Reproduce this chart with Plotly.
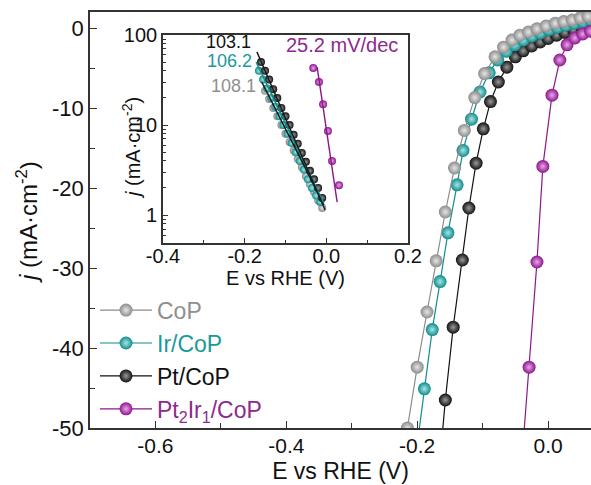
import plotly.graph_objects as go

# ---------------- main LSV data (E vs RHE in V, j in mA cm^-2) ----------------
cop_E = [-0.215, -0.200, -0.185, -0.171, -0.157, -0.143, -0.128, -0.112, -0.097, -0.081,
         -0.068, -0.055, -0.043, -0.030, -0.017, -0.003, 0.011, 0.024, 0.037, 0.049, 0.061]
cop_j = [-50.0, -42.4, -35.5, -29.1, -23.0, -17.5, -12.8, -8.7, -5.7, -3.6,
         -2.4, -1.5, -0.9, -0.5, -0.1, 0.25, 0.6, 0.8, 1.0, 1.25, 1.45]

ir_E = [-0.203, -0.189, -0.177, -0.165, -0.153, -0.139, -0.130, -0.117, -0.104, -0.090,
        -0.077, -0.064, -0.051, -0.038, -0.025, -0.012, 0.001, 0.014, 0.027, 0.040, 0.053, 0.065]
ir_j = [-54.0, -45.1, -37.7, -31.7, -25.6, -19.6, -15.3, -11.4, -8.0, -5.6,
        -4.0, -2.9, -2.1, -1.5, -1.0, -0.6, -0.2, 0.1, 0.35, 0.6, 0.8, 1.0]

pt_E = [-0.164, -0.157, -0.145, -0.131, -0.121, -0.110, -0.099, -0.088, -0.076, -0.063,
        -0.050, -0.038, -0.025, -0.012, 0.000, 0.013, 0.026, 0.039, 0.052, 0.064]
pt_j = [-53.0, -46.5, -37.4, -29.0, -22.5, -16.9, -12.6, -9.2, -6.75, -4.9,
        -3.6, -2.85, -2.25, -1.75, -1.3, -0.9, -0.55, -0.25, 0.05, 0.3]

ptir_E = [-0.040, -0.029, -0.017, -0.008, 0.006, 0.018, 0.029, 0.041, 0.053, 0.065]
ptir_j = [-54.0, -42.4, -29.25, -17.3, -8.4, -4.0, -2.1, -1.25, -0.75, -0.4]

# ---------------- inset Tafel data (|j| in mA cm^-2, log scale) ----------------
t_cop_E = [-0.150, -0.140, -0.130, -0.120, -0.110, -0.100, -0.090, -0.080,
           -0.070, -0.060, -0.050, -0.040, -0.030, -0.020, -0.010]
t_cop_j = [24, 19.5, 15.5, 12.5, 10, 8, 6.5, 5.2, 4.2, 3.4, 2.7, 2.2, 1.8, 1.45, 1.2]

t_ir_E = [-0.165, -0.155, -0.145, -0.135, -0.125, -0.115, -0.105, -0.095,
          -0.085, -0.075, -0.065, -0.055, -0.045, -0.035, -0.025, -0.015]
t_ir_j = [40, 32, 25.5, 20, 16, 12.5, 10, 8, 6.3, 5, 4, 3.2, 2.5, 2.0, 1.65, 1.4]

t_pt_E = [-0.160, -0.150, -0.140, -0.130, -0.120, -0.110, -0.100, -0.090,
          -0.080, -0.070, -0.060, -0.050, -0.040, -0.030, -0.020, -0.010]
t_pt_j = [50, 40, 32, 25, 20, 15.5, 12.5, 10, 7.8, 6.2, 4.9, 3.9, 3.1, 2.5, 2.0, 1.55]

t_ptir_E = [-0.032, -0.018, -0.008, 0.004, 0.014, 0.031]
t_ptir_j = [43, 30, 17, 8.6, 4.0, 2.15]

# Tafel fit lines (end points)
fit_cop_E, fit_cop_j = [-0.158, -0.006], [30, 1.3]
fit_ir_E, fit_ir_j = [-0.172, -0.006], [50, 1.35]
fit_pt_E, fit_pt_j = [-0.170, -0.003], [65, 1.14]
fit_ptir_E, fit_ptir_j = [-0.0225, 0.0265], [44, 1.39]

slopes = ["108.1", "106.2", "103.1", "25.2 mV/dec"]

names = ["CoP", "Ir/CoP", "Pt/CoP", "Pt<sub>2</sub>Ir<sub>1</sub>/CoP"]

x_ticks = [-0.6, -0.4, -0.2, 0.0]
y_ticks = [0, -10, -20, -30, -40, -50]
ix_ticks = [-0.4, -0.2, 0.0, 0.2]
iy_ticks = [1, 10, 100]

x_title = "E vs RHE (V)"
y_title = "<i>j</i> (mA·cm<sup>-2</sup>)"

# ---------------- styles ----------------
col = {"cop": "#8c8c8c", "ir": "#118c8c", "pt": "#111111", "ptir": "#8c168c"}
ctr = {"cop": "#e6e6e6", "ir": "#a6e6e6", "pt": "#9a9a9a", "ptir": "#eaa6ea"}
txtcol = {"cop": "#8f8f8f", "ir": "#1a9a9a", "pt": "#111111", "ptir": "#8e2a8e"}
FONT = "Liberation Sans, Arial, sans-serif"
AX = "#333333"

fig = go.Figure()

main = [("pt", pt_E, pt_j, 2), ("ir", ir_E, ir_j, 1), ("cop", cop_E, cop_j, 0), ("ptir", ptir_E, ptir_j, 3)]
for key, E, j, idx in main:
    fig.add_trace(go.Scatter(
        x=E, y=j, mode="lines+markers",
        name=f'<span style="color:{txtcol[key]}">{names[idx]}</span>',
        legendrank=idx + 1,
        line=dict(color=col[key], width=1.2),
        marker=dict(size=13, color=col[key], line=dict(width=0),
                    gradient=dict(type="radial", color=ctr[key])),
        xaxis="x", yaxis="y"))

inset = [("cop", t_cop_E, t_cop_j), ("ir", t_ir_E, t_ir_j), ("pt", t_pt_E, t_pt_j), ("ptir", t_ptir_E, t_ptir_j)]
for key, E, j in inset:
    fig.add_trace(go.Scatter(
        x=E, y=j, mode="markers", showlegend=False,
        marker=dict(size=8, color=col[key], line=dict(width=0),
                    gradient=dict(type="radial", color=ctr[key])),
        xaxis="x2", yaxis="y2"))

fits = [("cop", fit_cop_E, fit_cop_j), ("ir", fit_ir_E, fit_ir_j), ("pt", fit_pt_E, fit_pt_j), ("ptir", fit_ptir_E, fit_ptir_j)]
for key, E, j in fits:
    fig.add_trace(go.Scatter(
        x=E, y=j, mode="lines", showlegend=False,
        line=dict(color="#1a1a1a" if key in ("pt", "cop") else col[key], width=1.4),
        xaxis="x2", yaxis="y2"))

fmt = lambda v: ("%.1f" % v)
fig.update_layout(
    width=591, height=485,
    margin=dict(l=90, r=0, t=12, b=57, autoexpand=False),
    paper_bgcolor="white", plot_bgcolor="white",
    font=dict(family=FONT, size=20, color="#111"),
    showlegend=True,
    legend=dict(x=0.01, y=0.335, xanchor="left", yanchor="top",
                bgcolor="rgba(0,0,0,0)", font=dict(size=23, family=FONT),
                tracegroupgap=0, itemwidth=52),
    xaxis=dict(domain=[0, 1], range=[-0.7, 0.0656], showgrid=False, zeroline=False, automargin=False,
               showline=True, linecolor=AX, linewidth=1.5, mirror=True,
               ticks="inside", ticklen=7, tickwidth=1.3, tickcolor=AX,
               tickvals=x_ticks, ticktext=[fmt(v) for v in x_ticks],
               minor=dict(ticks="inside", ticklen=5, tickwidth=1.2, tickcolor=AX, dtick=0.1, tick0=0),
               title=dict(text=x_title, font=dict(size=23), standoff=7),
               tickfont=dict(size=21), ticklabelstandoff=-2),
    yaxis=dict(domain=[0, 1], range=[-50, 2], showgrid=False, zeroline=False, automargin=False,
               showline=True, linecolor=AX, linewidth=1.5, mirror=False,
               ticks="inside", ticklen=7, tickwidth=1.3, tickcolor=AX,
               tickvals=y_ticks, ticktext=[str(v) for v in y_ticks],
               minor=dict(ticks="inside", ticklen=5, tickwidth=1.2, tickcolor=AX, dtick=5, tick0=0),
               tickfont=dict(size=22)),
    xaxis2=dict(domain=[0.1457, 0.6347], anchor="y2", range=[-0.4, 0.2], showgrid=False, zeroline=False,
                automargin=False,
                showline=True, linecolor=AX, linewidth=1.5, mirror=True,
                ticks="inside", ticklen=5, tickwidth=1.2, tickcolor=AX,
                tickvals=ix_ticks, ticktext=[fmt(v) for v in ix_ticks],
                minor=dict(ticks="inside", ticklen=3, tickwidth=1, tickcolor=AX, dtick=0.1, tick0=0),
                title=dict(text=x_title, font=dict(size=20), standoff=0),
                tickfont=dict(size=20), ticklabelstandoff=-6),
    yaxis2=dict(domain=[0.4447, 0.9447], anchor="x2", type="log", range=[-0.31, 2],
                showgrid=False, zeroline=False, automargin=False,
                showline=True, linecolor=AX, linewidth=1.5, mirror=True,
                ticks="inside", ticklen=5, tickwidth=1.2, tickcolor=AX,
                tickvals=iy_ticks, ticktext=[str(v) for v in iy_ticks],
                minor=dict(ticks="inside", ticklen=3, tickwidth=1, tickcolor=AX,
                           tickvals=[m * d for d in (0.1, 1, 10) for m in range(2, 10)]),
                tickfont=dict(size=20)),
)

# axis titles for the two y axes
fig.add_annotation(text=y_title, x=-0.1257, y=0.495, xref="paper", yref="paper",
                   xanchor="center", yanchor="middle", textangle=-90, showarrow=False,
                   font=dict(size=24, family=FONT, color="#111"))
fig.add_annotation(text=y_title, x=0.0818, y=0.673, xref="paper", yref="paper",
                   xanchor="center", yanchor="middle", textangle=-90, showarrow=False,
                   font=dict(size=20, family=FONT, color="#111"))

ann = [
    (slopes[2], 0.3234, 0.927, "right", txtcol["pt"], 18),
    (slopes[1], 0.3257, 0.883, "right", txtcol["ir"], 18),
    (slopes[0], 0.3333, 0.8221, "right", txtcol["cop"], 18),
    (slopes[3], 0.3892, 0.9207, "left", txtcol["ptir"], 20),
]
for text, x, y, xa, c, fs in ann:
    fig.add_annotation(text=text, x=x, y=y, xref="paper", yref="paper", xanchor=xa, yanchor="middle",
                       showarrow=False, borderpad=0, font=dict(size=fs, color=c, family=FONT))

fig.write_html("out.html")
